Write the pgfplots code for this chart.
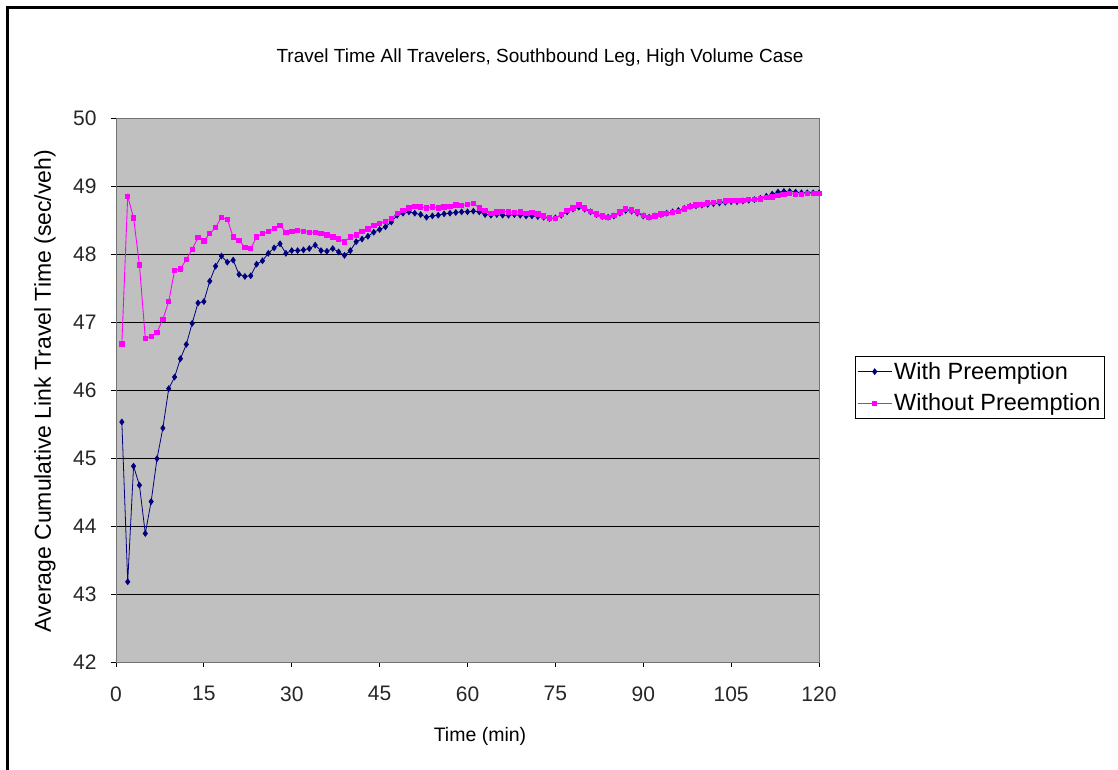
\documentclass[border=0pt]{standalone}
\usepackage{pgfplots}
\pgfplotsset{compat=1.18}
\usepackage{pgfplotstable}
\usepackage{fontspec}
\setmainfont{Liberation Sans}
\definecolor{plotgray}{RGB}{192,192,192}
\definecolor{navyblue}{RGB}{0,0,128}
\definecolor{magentaX}{RGB}{255,0,255}
\pgfplotstableread{
t with without
1 45.53 46.68
2 43.18 48.85
3 44.88 48.53
4 44.60 47.84
5 43.89 46.76
6 44.36 46.79
7 44.99 46.85
8 45.44 47.04
9 46.02 47.30
10 46.19 47.76
11 46.46 47.78
12 46.67 47.92
13 46.98 48.07
14 47.28 48.24
15 47.30 48.19
16 47.60 48.30
17 47.82 48.39
18 47.97 48.54
19 47.88 48.51
20 47.91 48.25
21 47.70 48.20
22 47.67 48.10
23 47.68 48.08
24 47.85 48.25
25 47.90 48.30
26 48.01 48.33
27 48.09 48.38
28 48.15 48.42
29 48.01 48.32
30 48.05 48.33
31 48.05 48.35
32 48.06 48.33
33 48.08 48.32
34 48.13 48.32
35 48.05 48.30
36 48.04 48.28
37 48.08 48.25
38 48.03 48.22
39 47.98 48.18
40 48.05 48.25
41 48.18 48.28
42 48.22 48.33
43 48.26 48.37
44 48.32 48.42
45 48.36 48.45
46 48.40 48.48
47 48.47 48.52
48 48.57 48.60
49 48.60 48.64
50 48.62 48.68
51 48.60 48.70
52 48.58 48.69
53 48.54 48.68
54 48.56 48.69
55 48.57 48.68
56 48.59 48.69
57 48.60 48.70
58 48.61 48.72
59 48.62 48.71
60 48.62 48.73
61 48.63 48.74
62 48.62 48.68
63 48.58 48.64
64 48.57 48.60
65 48.58 48.62
66 48.57 48.63
67 48.57 48.62
68 48.58 48.61
69 48.57 48.62
70 48.56 48.60
71 48.56 48.61
72 48.55 48.59
73 48.54 48.56
74 48.52 48.53
75 48.53 48.52
76 48.57 48.58
77 48.62 48.64
78 48.66 48.68
79 48.69 48.72
80 48.66 48.68
81 48.62 48.63
82 48.58 48.59
83 48.55 48.56
84 48.54 48.54
85 48.56 48.57
86 48.60 48.62
87 48.64 48.66
88 48.63 48.65
89 48.60 48.62
90 48.56 48.57
91 48.54 48.54
92 48.56 48.56
93 48.58 48.59
94 48.60 48.60
95 48.62 48.61
96 48.64 48.63
97 48.67 48.66
98 48.70 48.70
99 48.71 48.72
100 48.72 48.73
101 48.73 48.75
102 48.74 48.76
103 48.75 48.77
104 48.76 48.78
105 48.77 48.79
106 48.77 48.79
107 48.78 48.79
108 48.79 48.80
109 48.80 48.80
110 48.82 48.81
111 48.85 48.83
112 48.88 48.84
113 48.91 48.86
114 48.92 48.88
115 48.92 48.89
116 48.91 48.88
117 48.90 48.88
118 48.90 48.89
119 48.90 48.89
120 48.90 48.89
}\data

\begin{document}
\begin{tikzpicture}[x=1pt,y=1pt]
\useasboundingbox (0,0) rectangle (1118,770);
\fill[white] (0,0) rectangle (1118,770);
\draw[line width=3pt] (7,0) -- (7,762) -- (1118,762);
\node[font=\fontsize{19}{19}\selectfont] at (540,712) {Travel Time All Travelers, Southbound Leg, High Volume Case};
\node[font=\fontsize{19.5}{19.5}\selectfont] at (480,34) {Time (min)};
\node[font=\fontsize{23}{23}\selectfont, rotate=90] at (45,379) {Average Cumulative Link Travel Time (sec/veh)};
\begin{axis}[
  at={(116pt,108pt)}, anchor=south west, scale only axis,
  width=703pt, height=544pt,
  xmin=0, xmax=120, ymin=42, ymax=50,
  xtick={0,15,...,120}, ytick={42,43,...,50},
  axis background/.style={fill=plotgray},
  ymajorgrids, major grid style={black, line width=0.9pt},
  tick align=outside, xtick pos=bottom, ytick pos=left,
  major tick length=5pt,
  tick style={black, line width=0.8pt},
  axis line style={black!55, line width=0.9pt},
  ticklabel style={font=\fontsize{21}{21}\selectfont, text=black!85},
  /pgf/number format/assume math mode=true,
  xticklabel style={yshift=-16pt},
  yticklabel style={xshift=-11pt},
  legend style={at={(1.051,0.5625)}, anchor=north west, draw=black, line width=0.8pt,
    font=\fontsize{23.5}{26}\selectfont, inner xsep=2pt, inner ysep=4pt,
    cells={anchor=west}, row sep=9pt},
  legend image code/.code={\draw[mark repeat=2,mark phase=2] plot coordinates {(0pt,0pt) (17pt,0pt) (34pt,0pt)};},
]
\addplot[color=navyblue, line width=0.8pt, mark=diamond*, mark size=2.8pt, mark options={fill=navyblue}] table[x=t, y=with] {\data};
\addlegendentry{With Preemption}
\addplot[color=magentaX, line width=0.9pt, mark=square*, mark size=2.2pt, mark options={fill=magentaX}] table[x=t, y=without] {\data};
\addlegendentry{Without Preemption}
\end{axis}
\end{tikzpicture}
\end{document}
